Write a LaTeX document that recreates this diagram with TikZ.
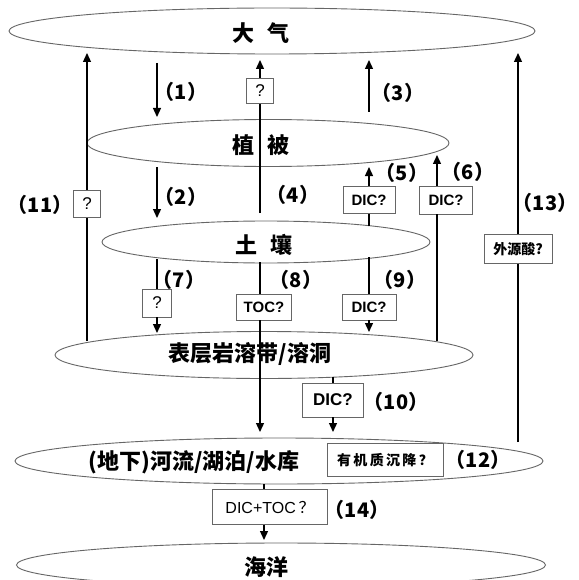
\documentclass[tikz,border=0pt]{standalone}
\usepackage{fontspec}
\setmainfont{Liberation Sans}
\newfontfamily\cjk{Noto Sans CJK SC}
\usetikzlibrary{arrows.meta,shapes.geometric}
\begin{document}
\begin{tikzpicture}[x=1pt,y=-1pt,
  layer/.style={draw=black!60, line width=0.9pt, ellipse, inner sep=0pt},
  ln/.style={line width=1.3pt},
  arr/.style={line width=1.3pt, -{Triangle[length=9pt,width=8pt]}},
  qbox/.style={draw=black!60, line width=0.8pt, fill=white, inner sep=0pt},
  lbl/.style={font=\cjk\bfseries\fontsize{20}{20}\selectfont, inner sep=0pt},
  ltext/.style={font=\cjk\bfseries\fontsize{22}{22}\selectfont, inner sep=0pt},
  dic/.style={font=\bfseries\fontsize{15}{15}\selectfont},
  qm/.style={font=\fontsize{17}{17}\selectfont},
]
\clip (0,0) rectangle (578,580);
\fill[white] (0,0) rectangle (578,580);

% layers
\node[layer, minimum width=526pt, minimum height=46pt] (atm) at (272,31) {};
\node[layer, minimum width=362pt, minimum height=47pt] (veg) at (268,143) {};
\node[layer, minimum width=328pt, minimum height=42pt] (soil) at (266,242) {};
\node[layer, minimum width=418pt, minimum height=47pt] (epi) at (264,355) {};
\node[layer, minimum width=528pt, minimum height=46pt] (riv) at (279,461) {};
\node[layer, minimum width=529pt, minimum height=44pt] (sea) at (281,565) {};

% layer texts
\node[ltext] (atmt) at (261,33) {大\hspace{14pt}气};
\node[ltext] (vegt) at (261,145) {植\hspace{14pt}被};
\node[ltext] (soilt) at (264,245) {土\hspace{14pt}壤};
\node[ltext] (epit) at (250,354) {表层岩溶带/溶洞};
\node[ltext] (rivt) at (194,462) {(地下)河流/湖泊/水库};
\node[ltext] (seat) at (266,567) {海洋};

% coordinates
\coordinate (s1) at (157,63);  \coordinate (t1) at (157,117);
\coordinate (s2) at (157,167); \coordinate (t2) at (157,218);
\coordinate (s3) at (369,112); \coordinate (t3) at (369,60);
\coordinate (s4) at (260,213); \coordinate (t4) at (260,60);
\coordinate (s5) at (369,226); \coordinate (t5) at (369,167);
\coordinate (s6) at (437,341); \coordinate (t6) at (437,155);
\coordinate (s7) at (157,259); \coordinate (t7) at (157,333);
\coordinate (s8) at (260,262); \coordinate (t8e) at (260,432);
\coordinate (s9) at (369,257); \coordinate (t9) at (369,332);
\coordinate (s10) at (333,377); \coordinate (t10) at (333,432);
\coordinate (s11) at (87,341); \coordinate (t11) at (87,53);
\coordinate (s13) at (518,442); \coordinate (t13) at (518,53);
\coordinate (s14) at (264,484); \coordinate (t14) at (264,540);

% boxes
\node[qbox, qm, minimum width=27pt, minimum height=25pt] (q4) at (260,91) {?};
\node[qbox, qm, minimum width=27pt, minimum height=27pt] (q11) at (87,204) {?};
\node[qbox, dic, minimum width=52pt, minimum height=27pt] (d5) at (369,200) {DIC?};
\node[qbox, dic, minimum width=53pt, minimum height=28pt] (d6) at (446,200) {DIC?};
\node[qbox, qm, minimum width=29pt, minimum height=28pt] (q7) at (157,303) {?};
\node[qbox, dic, minimum width=55pt, minimum height=26pt] (t8) at (264,307) {TOC?};
\node[qbox, dic, minimum width=54pt, minimum height=26pt] (d9) at (369,307) {DIC?};
\node[qbox, font=\bfseries\fontsize{17}{17}\selectfont, minimum width=61pt, minimum height=34pt] (d10) at (333,400) {DIC?};
\node[qbox, font=\cjk\bfseries\fontsize{14}{14}\selectfont, minimum width=68pt, minimum height=29pt] (x13) at (518,249) {外源酸?};
\node[qbox, font=\cjk\bfseries\fontsize{14}{14}\selectfont, minimum width=116pt, minimum height=33pt] (om) at (385,460) {有\,机\,质\,沉\,降\,？};
\node[qbox, font=\fontsize{16}{16}\selectfont, minimum width=115pt, minimum height=35pt] (dt) at (270,507) {DIC+TOC\,{\cjk ？}};

% connectors
\draw[arr] (s1) -- (t1);
\draw[arr] (s2) -- (t2);
\draw[arr] (s3) -- (t3);
\draw[ln] (s4) -- (q4.south); \draw[arr] (q4.north) -- (t4);
\draw[ln] (s5) -- (d5.south); \draw[arr] (d5.north) -- (t5);
\draw[ln] (s6) -- (s6 |- d6.south); \draw[arr] (s6 |- d6.north) -- (t6);
\draw[ln] (s7) -- (q7.north); \draw[arr] (q7.south) -- (t7);
\draw[ln] (s8) -- (s8 |- t8.north); \draw[arr] (s8 |- t8.south) -- (t8e);
\draw[ln] (s9) -- (d9.north); \draw[arr] (d9.south) -- (t9);
\draw[ln] (s10) -- (d10.north); \draw[arr] (d10.south) -- (t10);
\draw[ln] (s11) -- (q11.south); \draw[arr] (q11.north) -- (t11);
\draw[ln] (s13) -- (x13.south); \draw[arr] (x13.north) -- (t13);
\draw[ln] (s14) -- (s14 |- dt.north); \draw[arr] (s14 |- dt.south) -- (t14);

% labels
\node[lbl] (l1) at (181,92) {（1）};
\node[lbl] (l2) at (181,197) {（2）};
\node[lbl] (l3) at (398,93) {（3）};
\node[lbl] (l4) at (293,195) {（4）};
\node[lbl] (l5) at (402,173) {（5）};
\node[lbl] (l6) at (468,172) {（6）};
\node[lbl] (l7) at (179,280) {（7）};
\node[lbl] (l8) at (296,280) {（8）};
\node[lbl] (l9) at (400,280) {（9）};
\node[lbl] (l10) at (396,402) {（10）};
\node[lbl] (l11) at (40,205) {（11）};
\node[lbl] (l12) at (478,460) {（12）};
\node[lbl] (l13) at (545,203) {（13）};
\node[lbl] (l14) at (357,510) {（14）};
\end{tikzpicture}
\end{document}
